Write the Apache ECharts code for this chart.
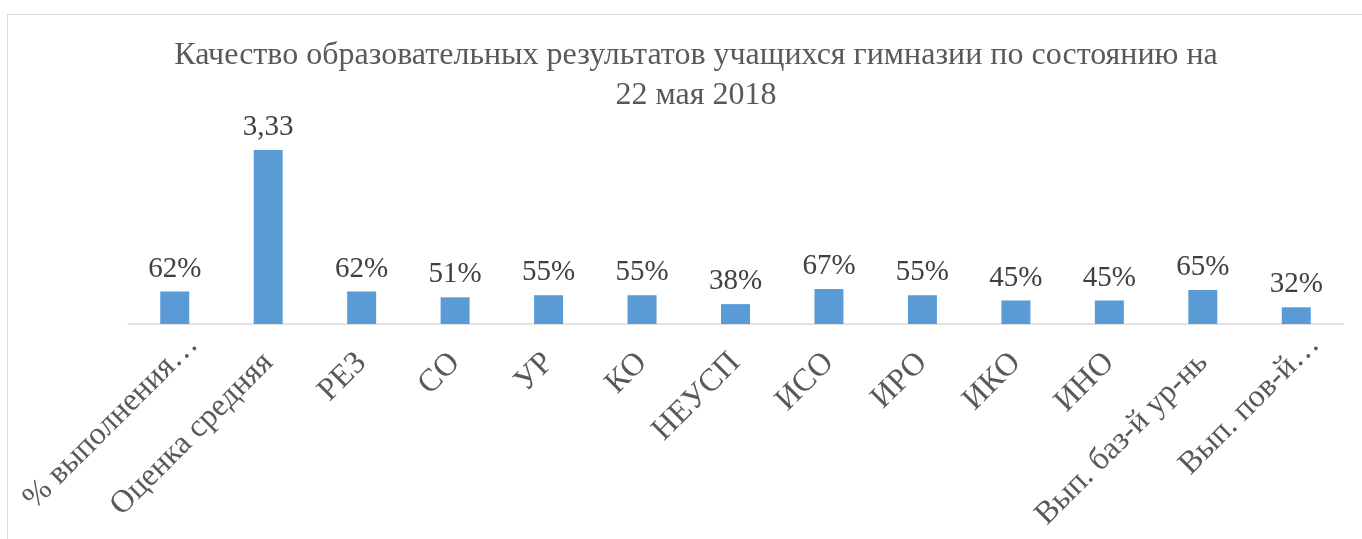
<!DOCTYPE html>
<html>
<head>
<meta charset="utf-8">
<script src="https://cdn.jsdelivr.net/npm/echarts@6/dist/echarts.min.js"></script>
<style>
  html, body { margin: 0; padding: 0; background: #fff; }
  #chart { width: 1362px; height: 539px; }
</style>
</head>
<body>
<div id="chart"></div>
<script>
  // подписи категорий (как в исходной диаграмме, с обрезкой)
  const categories = [
    '% выполнения…', 'Оценка средняя', 'РЕЗ', 'СО', 'УР', 'КО', 'НЕУСП',
    'ИСО', 'ИРО', 'ИКО', 'ИНО', 'Вып. баз-й ур-нь', 'Вып. пов-й…'
  ];
  const values = [0.62, 3.33, 0.62, 0.51, 0.55, 0.55, 0.38, 0.67, 0.55, 0.45, 0.45, 0.65, 0.32];
  // как подписано над столбцами
  const valueLabels = ['62%', '3,33', '62%', '51%', '55%', '55%', '38%', '67%', '55%', '45%', '45%', '65%', '32%'];

  const font = 'Liberation Serif, Times New Roman, serif';
  const chart = echarts.init(document.getElementById('chart'));

  // обрезанные подписи в Excel сдвинуты дальше вправо-вверх
  const catData = categories.map((c) => c.endsWith('…')
    ? { value: c, textStyle: { padding: [0, -26, 0, 0] } }
    : c);

  const option = {
    animation: false,
    title: {
      text: 'Качество образовательных результатов учащихся гимназии по состоянию на\n22 мая 2018',
      left: 691,
      textAlign: 'center',
      top: 31,
      textStyle: {
        fontFamily: font,
        fontSize: 32,
        fontWeight: 'normal',
        color: '#595959',
        lineHeight: 40
      }
    },
    graphic: [{
      type: 'rect',
      shape: { x: 7.5, y: 14.5, width: 1400, height: 600 },
      style: { fill: 'none', stroke: '#d9d9d9', lineWidth: 1 },
      silent: true
    }],
    grid: {
      left: 128,
      width: 1215,
      top: 141,
      bottom: 215
    },
    xAxis: {
      type: 'category',
      data: catData,
      axisLine: { lineStyle: { color: '#d9d9d9', width: 1.5 } },
      axisTick: { show: false },
      axisLabel: {
        rotate: 45,
        interval: 0,
        margin: 34,
        fontFamily: font,
        fontSize: 32,
        color: '#595959'
      }
    },
    yAxis: {
      type: 'value',
      min: 0,
      max: 3.5,
      show: false,
      splitLine: { show: false }
    },
    series: [{
      type: 'bar',
      data: values,
      barWidth: 29,
      itemStyle: { color: '#5b9bd5' },
      label: {
        show: true,
        position: 'top',
        distance: 8,
        fontFamily: font,
        fontSize: 29,
        color: '#404040',
        formatter: (p) => valueLabels[p.dataIndex]
      }
    }]
  };

  chart.setOption(option);
</script>
</body>
</html>
